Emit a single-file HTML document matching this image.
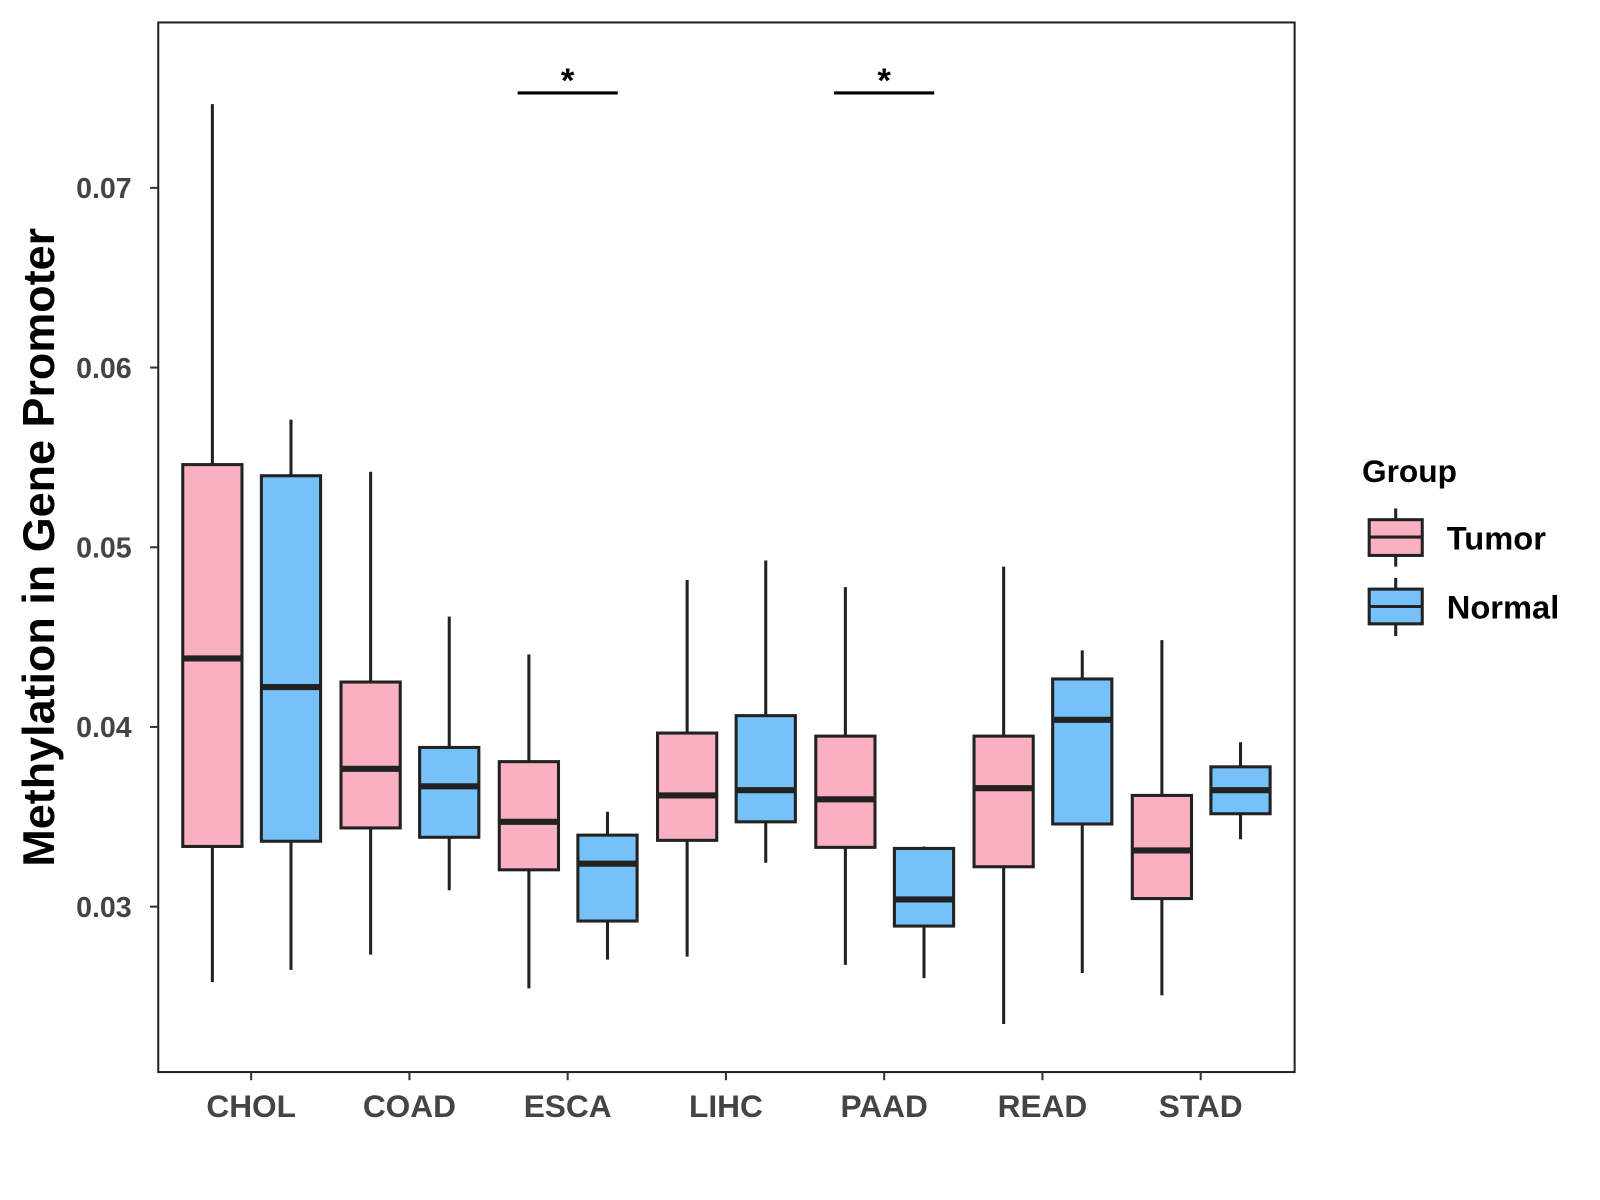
<!DOCTYPE html>
<html><head><meta charset="utf-8"><style>
html,body{margin:0;padding:0;background:#fff;width:1600px;height:1200px;overflow:hidden}
svg text{font-family:"Liberation Sans",Arial,sans-serif;font-weight:bold}
</style></head><body>
<svg id="chart" width="1600" height="1200" viewBox="0 0 1600 1200">
<g transform="scale(1.021)">
<rect x="155" y="22" width="1113" height="1028" fill="#fff" stroke="#222" stroke-width="2"/>
<g id="marks"></g>
<g id="axes"></g>
<text x="0" y="0" transform="translate(53,536) rotate(-90)" text-anchor="middle" font-size="44" fill="#000">Methylation in Gene Promoter</text>
<g>
<text x="1334" y="472" font-size="31" fill="#000">Group</text>
<g>
<line x1="1367" y1="498" x2="1367" y2="555" stroke="#222" stroke-width="3"/>
<rect x="1341" y="509" width="52" height="35" fill="#FBB0C1" stroke="#222" stroke-width="3"/>
<line x1="1341" y1="526" x2="1393" y2="526" stroke="#222" stroke-width="3"/>
<text x="1417" y="538" font-size="32" fill="#000">Tumor</text></g>
<g>
<line x1="1367" y1="566" x2="1367" y2="623" stroke="#222" stroke-width="3"/>
<rect x="1341" y="577" width="52" height="34" fill="#76C1F8" stroke="#222" stroke-width="3"/>
<line x1="1341" y1="594" x2="1393" y2="594" stroke="#222" stroke-width="3"/>
<text x="1417" y="606" font-size="32" fill="#000">Normal</text></g>
</g>
</g>
</svg>
<script>
const categories=["CHOL","COAD","ESCA","LIHC","PAAD","READ","STAD"];
const tumorStats=[[0.02580,0.03335,0.04381,0.05460,0.07466],[0.02733,0.03438,0.03767,0.04250,0.05420],[0.02545,0.03205,0.03472,0.03807,0.04403],[0.02722,0.03369,0.03619,0.03966,0.04818],[0.02676,0.03330,0.03597,0.03949,0.04778],[0.02347,0.03222,0.03659,0.03949,0.04892],[0.02506,0.03045,0.03313,0.03619,0.04483]];
const normalStats=[[0.02648,0.03364,0.04222,0.05398,0.05710],[0.03091,0.03386,0.03670,0.03886,0.04614],[0.02705,0.02920,0.03239,0.03398,0.03528],[0.03244,0.03472,0.03648,0.04063,0.04926],[0.02602,0.02892,0.03040,0.03324,0.03335],[0.02631,0.03460,0.04040,0.04267,0.04426],[0.03375,0.03517,0.03648,0.03778,0.03915]];
const yTicks=[0.03,0.04,0.05,0.06,0.07];
const yTickLabels=["0.03","0.04","0.05","0.06","0.07"];
const sigCategories=["ESCA","PAAD"];
const NS="http://www.w3.org/2000/svg";
function y(v){return 888-(v-0.03)*17600;}
function x(i){return 246+i*155;}
function mk(t,a,p){const e=document.createElementNS(NS,t);for(const k in a)e.setAttribute(k,a[k]);p.appendChild(e);return e;}
const marks=document.getElementById('marks'),axes=document.getElementById('axes');
function box(s,cx,fill,name){
 const g=mk('g',{},marks);
 
 
 mk('line',{x1:cx,x2:cx,y1:y(s[4]),y2:y(s[0]),stroke:'#222','stroke-width':3},g);
 mk('rect',{x:cx-29,y:y(s[3]),width:58,height:y(s[1])-y(s[3]),fill:fill,stroke:'#222','stroke-width':3},g);
 mk('line',{x1:cx-29,x2:cx+29,y1:y(s[2]),y2:y(s[2]),stroke:'#222','stroke-width':6},g);
}
categories.forEach((c,i)=>{
 box(tumorStats[i],x(i)-38,'#FBB0C1','box-tumor-'+c.toLowerCase());
 box(normalStats[i],x(i)+39,'#76C1F8','box-normal-'+c.toLowerCase());
 mk('line',{x1:x(i),x2:x(i),y1:1050,y2:1058,stroke:'#333','stroke-width':2},axes);
 const t=mk('text',{x:x(i),y:1094,'text-anchor':'middle','font-size':31,fill:'#444'},axes);
 t.textContent=c;
 
 
});
yTicks.forEach((v,i)=>{
 mk('line',{x1:147,x2:155,y1:y(v),y2:y(v),stroke:'#333','stroke-width':2},axes);
 const t=mk('text',{x:129,y:y(v)+10,'text-anchor':'end','font-size':28,fill:'#444'},axes);
 t.textContent=yTickLabels[i];
 
 
});
sigCategories.forEach(c=>{
 const i=categories.indexOf(c);
 const g=mk('g',{},marks);
 
 
 mk('line',{x1:x(i)-49,x2:x(i)+49,y1:91,y2:91,stroke:'#000','stroke-width':3},g);
 const t=mk('text',{x:x(i),y:90,'text-anchor':'middle','font-size':34,fill:'#000'},g);
 t.textContent='*';
});
</script>
</body></html>
